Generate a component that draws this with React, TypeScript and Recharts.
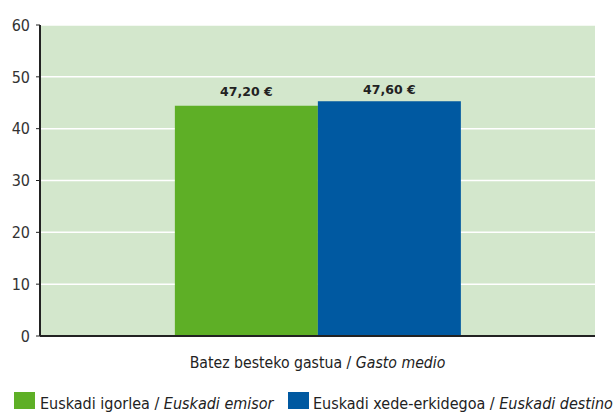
import React from "react";
import { BarChart, Bar, XAxis, YAxis, CartesianGrid, LabelList } from "recharts";

const categories = ["Batez besteko gastua / Gasto medio"];
const emisorValues = [44.4];
const destinoValues = [45.3];
const emisorLabels = ["47,20 €"];
const destinoLabels = ["47,60 €"];
const labelValues = [47.2, 47.6];
const yTicks = [0, 10, 20, 30, 40, 50, 60];
const seriesNames = [
  ["Euskadi igorlea / ", "Euskadi emisor"],
  ["Euskadi xede-erkidegoa / ", "Euskadi destino"],
];
const colors = ["#5eaf26", "#0059a1"];

const data = categories.map((c, i) => ({
  name: c,
  emisor: emisorValues[i],
  destino: destinoValues[i],
  emisorLabel: emisorLabels[i],
  destinoLabel: destinoLabels[i],
}));

const FONT = "'DejaVu Sans Condensed', 'Liberation Sans', sans-serif";

const makeLabel = (labels: string[], lv: number, vals: number[]) => (props: any) => {
  const { x, y, width, height, index } = props;
  const bottom = y + height;
  const pxPer = height / vals[index];
  const ly = bottom - lv * pxPer;
  return (
    <text x={x + width / 2} y={ly} textAnchor="middle" dominantBaseline="central"
      fontFamily="'DejaVu Sans', sans-serif" fontWeight="bold" fontSize={12.5} fill="#222">
      {labels[index]}
    </text>
  );
};

const CatTick = (props: any) => {
  const { x, y, payload } = props;
  const parts = String(payload.value).split(" / ");
  return (
    <text x={x} y={y + 24} textAnchor="middle" fontFamily={FONT} fontSize={15.7} fill="#222">
      <tspan>{parts[0] + " / "}</tspan>
      <tspan fontStyle="italic">{parts[1]}</tspan>
    </text>
  );
};

const legendLayout = [
  { sq: 14, tx: 40 },
  { sq: 288, tx: 313 },
];

const LegendSvg = () => (
  <svg width={614} height={40} style={{ position: "absolute", left: 0, top: 380 }}>
    {seriesNames.map((s, i) => (
      <g key={i}>
        <rect x={legendLayout[i].sq} y={12} width={21} height={17} fill={colors[i]} />
        <text x={legendLayout[i].tx} y={28.5} fontFamily={FONT} fontSize={16} fill="#222">
          <tspan>{s[0]}</tspan>
          <tspan fontStyle="italic">{s[1]}</tspan>
        </text>
      </g>
    ))}
  </svg>
);

export default function App() {
  return (
    <div style={{ position: "absolute", left: 0, top: 0, width: 614, height: 412, background: "#fff" }}>
      <BarChart width={614} height={412} data={data}
        margin={{ top: 25, right: 19, left: 0, bottom: 46 }}
        barCategoryGap="24.3%" barGap={0}>
        <CartesianGrid vertical={false} stroke="#ffffff" strokeWidth={1.5} fill="#d3e7cc" />
        <XAxis dataKey="name" height={30} tick={<CatTick />} tickLine={false} axisLine={{ stroke: "#222", strokeWidth: 2 }} />
        <YAxis domain={[0, 60]} ticks={yTicks} width={40} interval={0}
          axisLine={{ stroke: "#222", strokeWidth: 2 }} tickLine={{ stroke: "#222" }} tickSize={4} tickMargin={6}
          tick={{ fontFamily: FONT, fontSize: 16, fill: "#333" }} />
        <Bar dataKey="emisor" fill={colors[0]} isAnimationActive={false}>
          <LabelList dataKey="emisorLabel" content={makeLabel(emisorLabels, labelValues[0], emisorValues)} />
        </Bar>
        <Bar dataKey="destino" fill={colors[1]} isAnimationActive={false}>
          <LabelList dataKey="destinoLabel" content={makeLabel(destinoLabels, labelValues[1], destinoValues)} />
        </Bar>
      </BarChart>
      <LegendSvg />
    </div>
  );
}
